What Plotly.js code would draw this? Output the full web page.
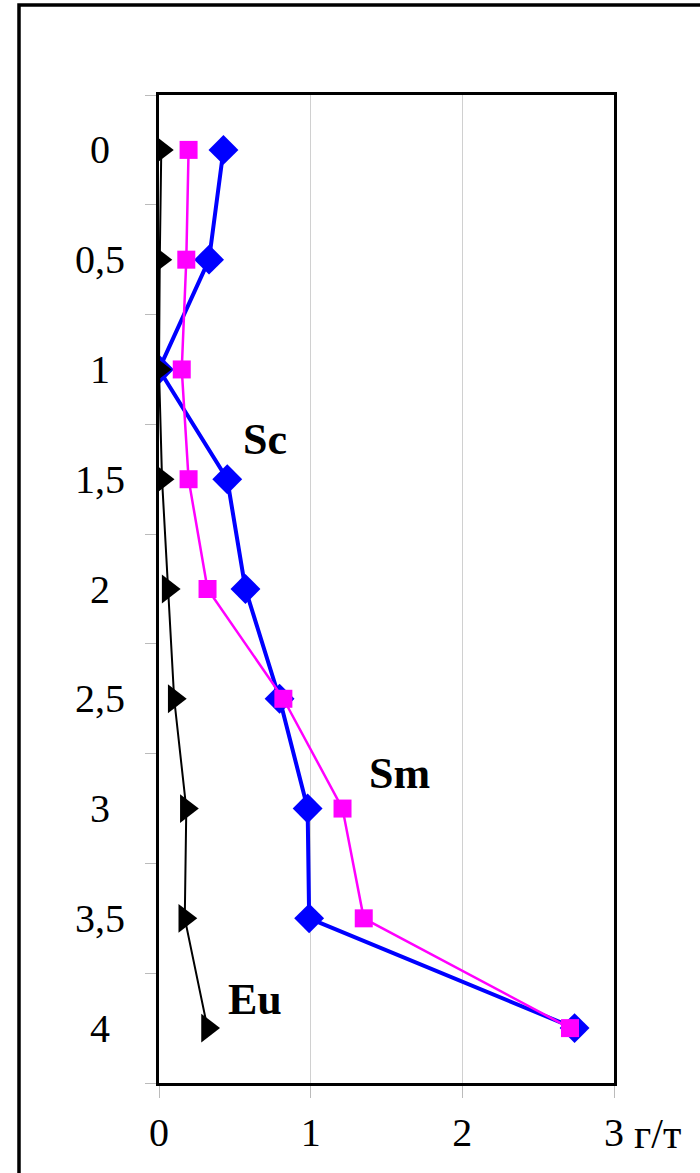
<!DOCTYPE html>
<html>
<head>
<meta charset="utf-8">
<script src="https://cdn.plot.ly/plotly-3.0.1.min.js"></script>
<style>
html,body{margin:0;padding:0;background:#fff;}
#chart{width:700px;height:1173px;}
</style>
</head>
<body>
<div id="chart"></div>
<script>
// Depth (m) and concentrations (g/t)
const depth = [0, 0.5, 1, 1.5, 2, 2.5, 3, 3.5, 4];
const depthLabels = ["0", "0,5", "1", "1,5", "2", "2,5", "3", "3,5", "4"];
const sc = [0.425, 0.33, 0.0, 0.45, 0.57, 0.795, 0.98, 0.99, 2.74];
const sm = [0.195, 0.18, 0.15, 0.195, 0.32, 0.82, 1.21, 1.35, 2.71];
const eu = [0.015, 0.005, 0.0, 0.02, 0.06, 0.10, 0.18, 0.17, 0.32];
const xTicks = [0, 1, 2, 3];
const xTickText = ["0", "1", "2", "3"];
const yBoundaries = [-0.25, 0.25, 0.75, 1.25, 1.75, 2.25, 2.75, 3.25, 3.75, 4.25];
const seriesLabels = [
  {text: "Sc", x: 0.70, y: 1.32},
  {text: "Sm", x: 1.585, y: 2.84},
  {text: "Eu", x: 0.63, y: 3.87}
];

const FONT = "Liberation Serif, Times New Roman, serif";

const traces = [
  {x: sc, y: depth, mode: "lines+markers", name: "Sc",
   line: {color: "#0000FF", width: 4},
   marker: {symbol: "diamond", size: 23, color: "#0000FF"}},
  {x: sm, y: depth, mode: "lines+markers", name: "Sm",
   line: {color: "#FF00FF", width: 2.5},
   marker: {symbol: "square", size: 18, color: "#FF00FF"}},
  {x: eu, y: depth, mode: "lines+markers", name: "Eu",
   line: {color: "#000000", width: 2},
   marker: {symbol: "triangle-right", size: 25, color: "#000000"}}
];

const annotations = [];
depth.forEach((d, i) => {
  annotations.push({xref: "paper", yref: "y", x: -0.1297, y: d,
    text: depthLabels[i], showarrow: false, xanchor: "center", yanchor: "middle",
    font: {family: FONT, size: 40, color: "#000"}});
});
annotations.push({xref: "paper", yref: "y", x: -0.1297, y: -0.355,
  text: "<b>м</b>", showarrow: false, xanchor: "center", yanchor: "middle",
  font: {family: FONT, size: 40, color: "#000"}});
annotations.push({xref: "paper", yref: "paper", x: 1.0396, y: -0.0517,
  text: "г/т", showarrow: false, xanchor: "left", yanchor: "middle",
  font: {family: FONT, size: 42, color: "#000"}});
seriesLabels.forEach(l => {
  annotations.push({xref: "x", yref: "y", x: l.x, y: l.y,
    text: "<b>" + l.text + "</b>", showarrow: false, xanchor: "center", yanchor: "middle",
    font: {family: FONT, size: 44, color: "#000"}});
});

const layout = {
  width: 700, height: 1173,
  margin: {l: 159, r: 86, t: 95, b: 90, pad: 0},
  paper_bgcolor: "#fff", plot_bgcolor: "#fff",
  showlegend: false,
  font: {family: FONT, size: 40, color: "#000"},
  xaxis: {
    range: [0, 3], tickvals: xTicks, ticktext: xTickText,
    ticks: "outside", ticklen: 12, tickcolor: "#bbbbbb", tickwidth: 1,
    showgrid: true, gridcolor: "#d0d0d0", gridwidth: 1,
    zeroline: false, showline: true, linecolor: "#000", linewidth: 3, mirror: true,
    tickfont: {family: FONT, size: 40, color: "#000"}
  },
  yaxis: {
    range: [4.25, -0.25], tickvals: yBoundaries, showticklabels: false,
    ticks: "outside", ticklen: 11, tickcolor: "#bbbbbb", tickwidth: 1,
    showgrid: false, zeroline: false,
    showline: true, linecolor: "#000", linewidth: 3, mirror: true
  },
  shapes: [
    {type: "rect", xref: "paper", yref: "paper",
     x0: -0.3077, x1: 1.6, y0: -0.3, y1: 1.0911,
     line: {color: "#000", width: 3.5}, fillcolor: "rgba(0,0,0,0)"}
  ],
  annotations: annotations
};

Plotly.newPlot("chart", traces, layout, {staticPlot: true, displayModeBar: false});
</script>
</body>
</html>
